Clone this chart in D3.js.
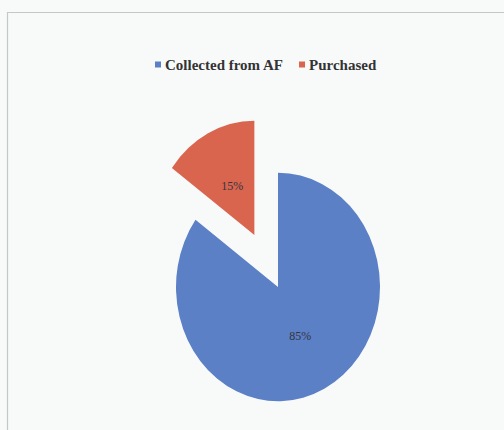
<!DOCTYPE html>
<html>
<head>
<meta charset="utf-8">
<script src="https://cdn.jsdelivr.net/npm/d3@7/dist/d3.min.js"></script>
<style>
  html, body { margin: 0; padding: 0; background: #f7f9f9; }
  svg { display: block; }
</style>
</head>
<body>
<svg id="chart" width="504" height="430"></svg>
<script>
// Sources of the material, share in percent
const categories = ["Collected from AF", "Purchased"];
const shares = [85, 15];
const colors = ["#5b80c6", "#d9654f"];
const explodedIndex = 1;   // the purchased slice is pulled out

const width = 504, height = 430;
const svg = d3.select("#chart");

// panel frame
svg.append("rect").attr("x", 0).attr("y", 0).attr("width", width).attr("height", height)
  .attr("fill", "#f8fafa");
svg.append("path")
  .attr("d", `M7.5,${height} L7.5,12.5 L${width},12.5`)
  .attr("fill", "none").attr("stroke", "#c4c8c8").attr("stroke-width", 1.2);

// pie geometry (drawn slightly taller than wide)
const cx = 278, cy = 287, r = 102, yScale = 1.12, explode = 52;

const pie = d3.pie().sort(null).value(d => d).startAngle(0).endAngle(2 * Math.PI);
const arcs = pie(shares);
const arc = d3.arc().innerRadius(0).outerRadius(r);
const labelArc = d3.arc().innerRadius(r * 0.48).outerRadius(r * 0.48);

const offset = (d, i) => {
  if (i !== explodedIndex) return [0, 0];
  const a = (d.startAngle + d.endAngle) / 2;
  return [Math.sin(a) * explode, -Math.cos(a) * explode];
};

const pieG = svg.append("g").attr("transform", `translate(${cx},${cy}) scale(1,${yScale})`);
pieG.selectAll("path.slice").data(arcs).join("path")
  .attr("class", "slice")
  .attr("transform", (d, i) => { const o = offset(d, i); return `translate(${o[0]},${o[1]})`; })
  .attr("d", arc)
  .attr("fill", (d, i) => colors[i]);

// percentage labels
svg.append("g").selectAll("text").data(arcs).join("text")
  .attr("x", (d, i) => cx + labelArc.centroid(d)[0] + offset(d, i)[0])
  .attr("y", (d, i) => cy + (labelArc.centroid(d)[1] + offset(d, i)[1]) * yScale)
  .attr("text-anchor", "middle")
  .attr("dominant-baseline", "central")
  .attr("font-family", "'Liberation Serif', 'DejaVu Serif', serif")
  .attr("font-size", 12)
  .attr("fill", "#34343e")
  .text(d => d.data + "%");

// legend
const legend = svg.append("g").attr("font-family", "'Liberation Serif', 'DejaVu Serif', serif")
  .attr("font-weight", "bold").attr("font-size", 15).attr("fill", "#333");
let lx = 155;
const ly = 65;
categories.forEach((c, i) => {
  legend.append("rect").attr("x", lx).attr("y", ly - 3.5).attr("width", 6).attr("height", 6)
    .attr("fill", colors[i]);
  const t = legend.append("text").attr("x", lx + 10).attr("y", ly)
    .attr("dominant-baseline", "central").text(c);
  lx += 10 + t.node().getComputedTextLength() + 16;
});
</script>
</body>
</html>
